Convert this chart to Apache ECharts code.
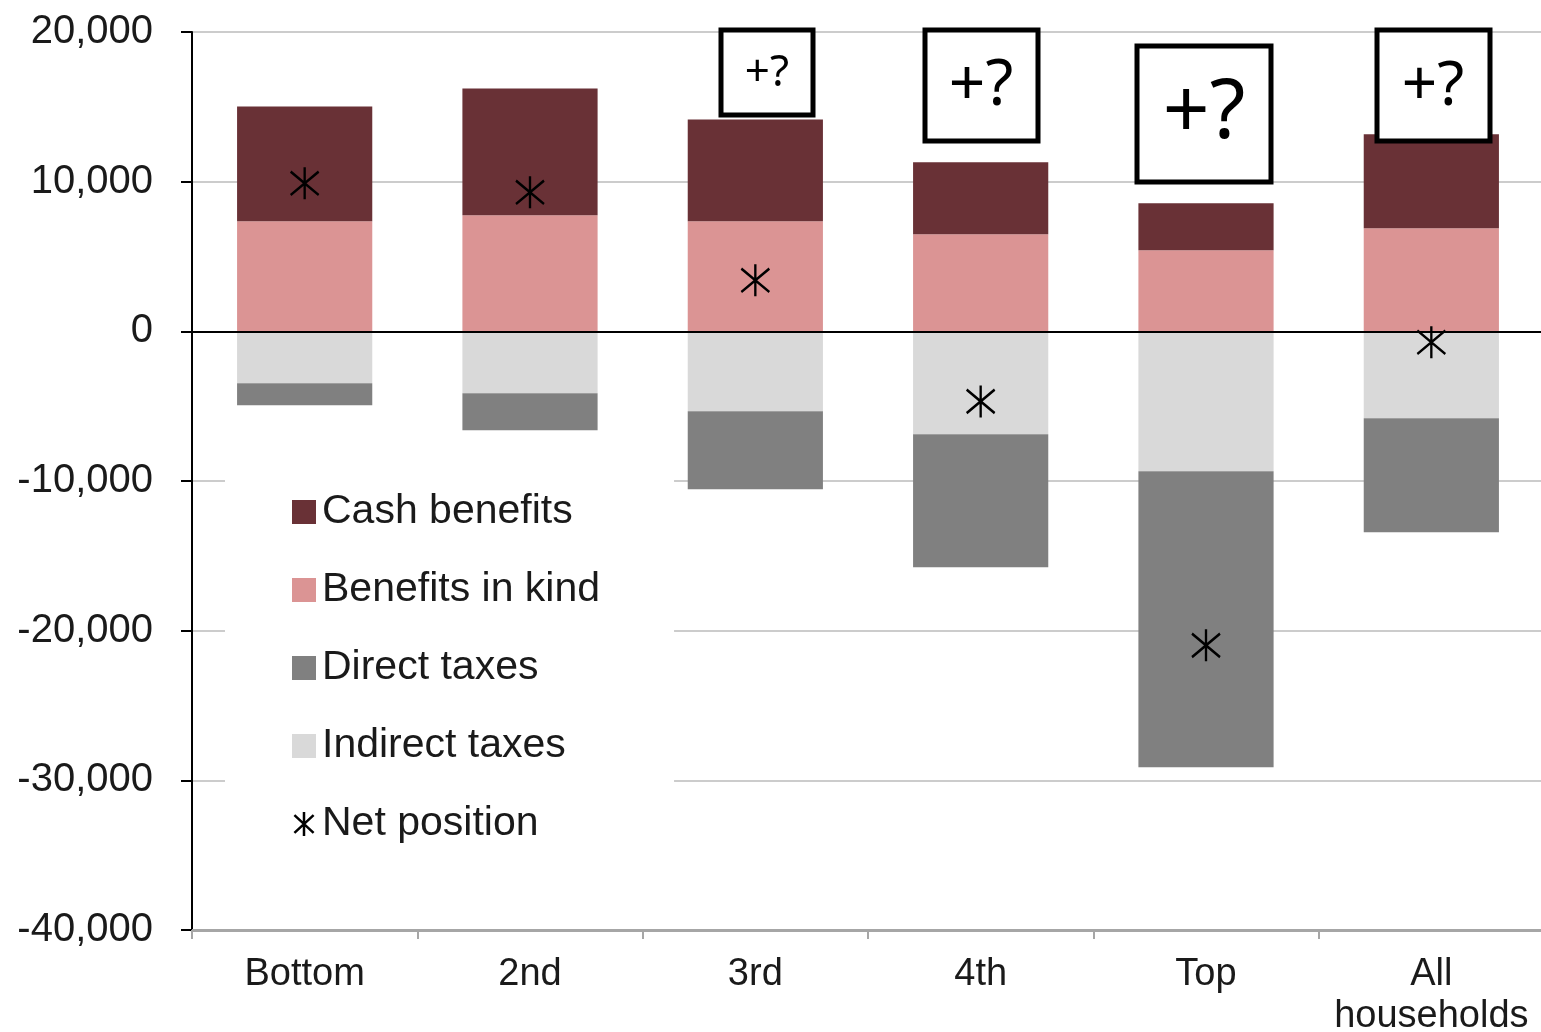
<!DOCTYPE html>
<html>
<head>
<meta charset="utf-8">
<script src="https://cdn.jsdelivr.net/npm/echarts@6/dist/echarts.min.js"></script>
<style>
html,body{margin:0;padding:0;background:#fff;}
#main{width:1541px;height:1032px;}
</style>
</head>
<body>
<div id="main"></div>
<script>
const categories = ['Bottom', '2nd', '3rd', '4th', 'Top', 'All\nhouseholds'];
const cashBenefits = [7680, 8480, 6810, 4810, 3140, 6280];
const benefitsInKind = [7350, 7750, 7350, 6480, 5410, 6880];
const directTaxes = [-1470, -2470, -5210, -8880, -19780, -7620];
const indirectTaxes = [-3470, -4140, -5340, -6880, -9350, -5810];
const netPosition = [9890, 9290, 3410, -4680, -20980, -730];
const yTicks = [-40000, -30000, -20000, -10000, 0, 10000, 20000];

const FONT = '"Liberation Sans", Arial, sans-serif';
const ASTERISK = 'path://M15,0 L15,30 M3,4 L27,26 M3,26 L27,4';

const chart = echarts.init(document.getElementById('main'));
chart.setOption({
  animation: false,
  backgroundColor: '#ffffff',
  grid: { left: 192, right: -3, top: 32, bottom: 102, containLabel: false, outerBoundsMode: 'none' },
  legend: {
    orient: 'vertical',
    left: 225,
    top: 470,
    backgroundColor: '#ffffff',
    padding: [20, 74, 20, 67],
    itemWidth: 24,
    itemHeight: 24,
    itemGap: 34,
    textStyle: { fontFamily: FONT, fontSize: 41, color: '#1a1a1a', lineHeight: 44, padding: [0, 0, 0, 1] },
    data: [
      { name: 'Cash benefits', icon: 'rect' },
      { name: 'Benefits in kind', icon: 'rect' },
      { name: 'Direct taxes', icon: 'rect' },
      { name: 'Indirect taxes', icon: 'rect' },
      { name: 'Net position', icon: ASTERISK, itemStyle: { color: 'transparent', borderColor: '#000', borderWidth: 2.5 } }
    ],
    z: 20
  },
  xAxis: {
    type: 'category',
    data: categories,
    axisLine: { onZero: false, lineStyle: { color: '#a6a6a6', width: 3 } },
    axisTick: { show: true, length: 9, lineStyle: { color: '#a6a6a6', width: 2 } },
    axisLabel: { fontFamily: FONT, fontSize: 38, color: '#1a1a1a', margin: 24, lineHeight: 42, interval: 0 },
    splitLine: { show: false }
  },
  yAxis: {
    type: 'value',
    min: yTicks[0],
    max: yTicks[yTicks.length - 1],
    interval: 10000,
    axisLine: { show: true, lineStyle: { color: '#000', width: 2 } },
    axisTick: { show: true, length: 11, lineStyle: { color: '#000', width: 2 } },
    axisLabel: {
      fontFamily: FONT, fontSize: 40, color: '#1a1a1a', margin: 39,
      formatter: v => v.toLocaleString('en-US')
    },
    splitLine: { show: true, lineStyle: { color: '#cccccc', width: 2 } }
  },
  series: [
    {
      name: 'Benefits in kind', type: 'bar', stack: 'total', barWidth: '60%',
      data: benefitsInKind, itemStyle: { color: '#DB9494' }
    },
    {
      name: 'Cash benefits', type: 'bar', stack: 'total',
      data: cashBenefits, itemStyle: { color: '#693136' }
    },
    {
      name: 'Indirect taxes', type: 'bar', stack: 'total',
      data: indirectTaxes, itemStyle: { color: '#D9D9D9' }
    },
    {
      name: 'Direct taxes', type: 'bar', stack: 'total',
      data: directTaxes, itemStyle: { color: '#808080' },
      markLine: {
        silent: true, symbol: 'none', label: { show: false },
        lineStyle: { color: '#000', width: 2, type: 'solid' },
        data: [{ yAxis: 0 }],
        z: 5
      }
    },
    {
      name: 'Net position', type: 'scatter',
      data: netPosition,
      symbol: ASTERISK, symbolSize: [28, 32],
      itemStyle: { color: 'transparent', borderColor: '#000', borderWidth: 2.5, opacity: 1 },
      z: 10
    }
  ],
  graphic: [
    { type: 'rect', shape: { x: 721, y: 30, width: 92, height: 85 }, style: { fill: '#fff', stroke: '#000', lineWidth: 5 }, z: 30 },
    { type: 'text', x: 767, y: 73, style: { text: '+?', font: '44px "Noto Sans", sans-serif', fill: '#000', align: 'center', verticalAlign: 'middle' }, z: 31 },
    { type: 'rect', shape: { x: 925, y: 30, width: 113, height: 111 }, style: { fill: '#fff', stroke: '#000', lineWidth: 5 }, z: 30 },
    { type: 'text', x: 981, y: 87, style: { text: '+?', font: '64px "Noto Sans", sans-serif', fill: '#000', align: 'center', verticalAlign: 'middle' }, z: 31 },
    { type: 'rect', shape: { x: 1137, y: 46, width: 134, height: 136 }, style: { fill: '#fff', stroke: '#000', lineWidth: 5 }, z: 30 },
    { type: 'text', x: 1204, y: 115, style: { text: '+?', font: '82px "Noto Sans", sans-serif', fill: '#000', align: 'center', verticalAlign: 'middle' }, z: 31 },
    { type: 'rect', shape: { x: 1377, y: 30, width: 113, height: 111 }, style: { fill: '#fff', stroke: '#000', lineWidth: 5 }, z: 30 },
    { type: 'text', x: 1433, y: 87, style: { text: '+?', font: '62px "Noto Sans", sans-serif', fill: '#000', align: 'center', verticalAlign: 'middle' }, z: 31 }
  ]
});
</script>
</body>
</html>
